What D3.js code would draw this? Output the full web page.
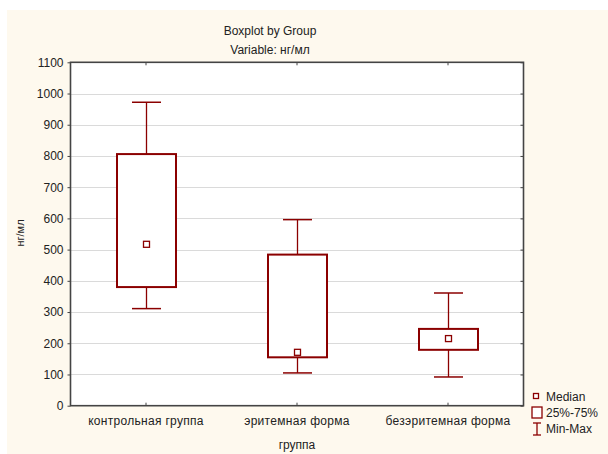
<!DOCTYPE html>
<html><head><meta charset="utf-8">
<script src="https://cdn.jsdelivr.net/npm/d3@7"></script>
<style>body{margin:0;background:#fff}svg{display:block}text{font-family:"Liberation Sans",Arial,sans-serif;fill:#222}</style>
</head><body>
<svg id="c" width="608" height="454"></svg>
<script>
const categories = ["контрольная группа", "эритемная форма", "безэритемная форма"];
const minVals    = [311, 105, 92];
const q1Vals     = [380, 155, 179];
const medianVals = [517, 171, 215];
const q3Vals     = [806, 484, 246];
const maxVals    = [972, 596, 361];
const yTicks = [0,100,200,300,400,500,600,700,800,900,1000,1100];

const svg = d3.select("#c");
const col = "#8b0000";
svg.append("rect").attr("x",7).attr("y",10).attr("width",601).attr("height",444).attr("fill","#fef9ee");

const L=70.5, R=523.5, T=62.3, B=405.7;
const x = d3.scaleBand().domain(categories).range([L,R]);
const y = d3.scaleLinear().domain([0,1100]).range([B,T]);

svg.append("rect").attr("x",L).attr("y",T).attr("width",R-L).attr("height",B-T).attr("fill","#fff");

// grid
svg.append("g").selectAll("line").data(yTicks.slice(1,-1)).join("line")
  .attr("x1",L).attr("x2",R).attr("y1",d=>Math.round(y(d))+0.5).attr("y2",d=>Math.round(y(d))+0.5)
  .attr("stroke","#b4b4b4").attr("stroke-dasharray","1,1");

// axes
const axL = svg.append("g").attr("transform",`translate(${L},0)`).call(d3.axisLeft(y).tickValues(yTicks).tickSize(3).tickPadding(4).tickFormat(d3.format("d")));
axL.select(".domain").remove();
axL.selectAll("line").attr("stroke","#444");
axL.selectAll("text").style("font-size","12px").attr("fill","#222");
const axR = svg.append("g").attr("transform",`translate(${R},0)`).call(d3.axisLeft(y).tickValues(yTicks).tickSize(3).tickFormat(""));
axR.select(".domain").remove(); axR.selectAll("line").attr("stroke","#444");
const xc = d=>x(d)+x.bandwidth()/2;
const axT = svg.append("g").attr("transform",`translate(0,${T})`).call(d3.axisBottom(x).tickSize(3).tickFormat(""));
axT.select(".domain").remove(); axT.selectAll("line").attr("stroke","#444");
const axB = svg.append("g").attr("transform",`translate(0,${B})`).call(d3.axisTop(x).tickSize(3).tickFormat(""));
axB.select(".domain").remove(); axB.selectAll("line").attr("stroke","#444");
svg.append("g").selectAll("text").data(categories).join("text")
  .attr("x",xc).attr("y",425).attr("text-anchor","middle").style("font-size","12px").style("letter-spacing","0.3px").text(d=>d);

svg.append("rect").attr("x",L).attr("y",T).attr("width",R-L).attr("height",B-T)
  .attr("fill","none").attr("stroke","#444").attr("stroke-width",1.6);

// boxes
const bw = 59, cw = 29;
const g = svg.append("g");
categories.forEach((c,i)=>{
  const cx = Math.round(xc(c))+0.5;
  g.append("line").attr("x1",cx).attr("x2",cx).attr("y1",y(maxVals[i])).attr("y2",y(q3Vals[i])).attr("stroke",col).attr("stroke-width",1.3);
  g.append("line").attr("x1",cx).attr("x2",cx).attr("y1",y(q1Vals[i])).attr("y2",y(minVals[i])).attr("stroke",col).attr("stroke-width",1.3);
  g.append("line").attr("x1",cx-cw/2).attr("x2",cx+cw/2).attr("y1",y(maxVals[i])).attr("y2",y(maxVals[i])).attr("stroke",col).attr("stroke-width",1.5);
  g.append("line").attr("x1",cx-cw/2).attr("x2",cx+cw/2).attr("y1",y(minVals[i])).attr("y2",y(minVals[i])).attr("stroke",col).attr("stroke-width",1.5);
  g.append("rect").attr("x",cx-bw/2).attr("y",y(q3Vals[i])).attr("width",bw).attr("height",y(q1Vals[i])-y(q3Vals[i]))
    .attr("fill","#fff").attr("stroke",col).attr("stroke-width",2);
  g.append("rect").attr("x",cx-3).attr("y",y(medianVals[i])-3).attr("width",6).attr("height",6)
    .attr("fill","#fff").attr("stroke",col).attr("stroke-width",1.3);
});

// titles
svg.append("text").attr("x",270).attr("y",35).attr("text-anchor","middle").style("font-size","12px").text("Boxplot by Group");
svg.append("text").attr("x",270).attr("y",54).attr("text-anchor","middle").style("font-size","12px").text("Variable: нг/мл");
svg.append("text").attr("x",297).attr("y",449).attr("text-anchor","middle").style("font-size","12px").text("группа");
svg.append("text").attr("transform","translate(24,233) rotate(-90)").attr("text-anchor","middle").style("font-size","11px").text("нг/мл");

// legend
const lg = svg.append("g");
lg.append("rect").attr("x",533.5).attr("y",393.5).attr("width",5).attr("height",5).attr("fill","#fff").attr("stroke",col).attr("stroke-width",1.3);
lg.append("text").attr("x",546).attr("y",401).style("font-size","12px").text("Median");
lg.append("rect").attr("x",532).attr("y",407).attr("width",10).attr("height",11).attr("fill","#fff").attr("stroke",col).attr("stroke-width",1.3);
lg.append("text").attr("x",546).attr("y",417).style("font-size","12px").text("25%-75%");
lg.append("line").attr("x1",533).attr("x2",541).attr("y1",423).attr("y2",423).attr("stroke",col).attr("stroke-width",1.3);
lg.append("line").attr("x1",537).attr("x2",537).attr("y1",423).attr("y2",435).attr("stroke",col).attr("stroke-width",1.3);
lg.append("line").attr("x1",533).attr("x2",541).attr("y1",435).attr("y2",435).attr("stroke",col).attr("stroke-width",1.3);
lg.append("text").attr("x",546).attr("y",433).style("font-size","12px").text("Min-Max");
</script>
</body></html>
